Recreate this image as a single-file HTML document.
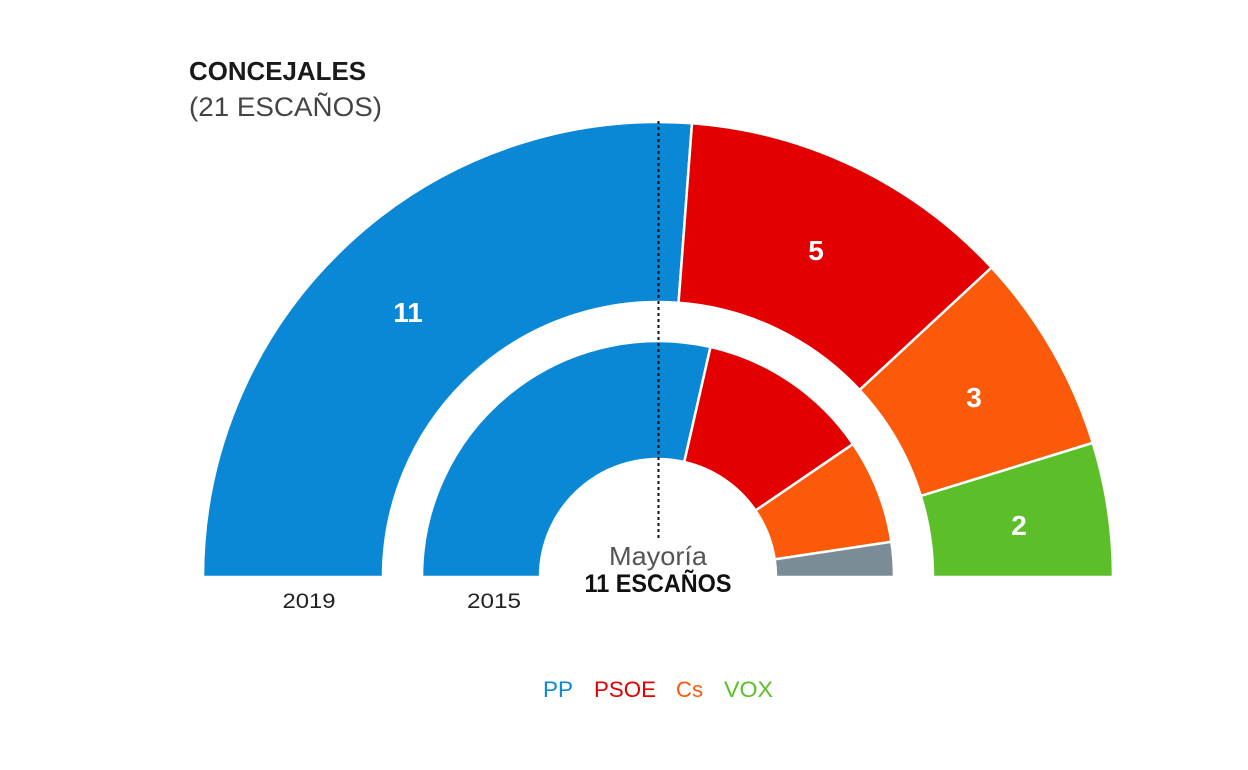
<!DOCTYPE html>
<html>
<head>
<meta charset="utf-8">
<style>
  html, body { margin:0; padding:0; background:#fff; }
  body { width:1248px; height:770px; overflow:hidden; }
  svg { display:block; }
  text { font-family: "Liberation Sans", "DejaVu Sans", sans-serif; }
</style>
</head>
<body>
<svg width="1248" height="770" viewBox="0 0 1248 770" xmlns="http://www.w3.org/2000/svg">
  <rect width="1248" height="770" fill="#ffffff"/>

  <!-- Title -->
  <text x="189" y="80" font-size="26" font-weight="bold" fill="#1a1a1a" textLength="177" lengthAdjust="spacingAndGlyphs">CONCEJALES</text>
  <text x="189" y="116" font-size="27" fill="#444" textLength="193" lengthAdjust="spacingAndGlyphs">(21 ESCAÑOS)</text>

  <!-- Outer ring 2019 -->
  <g stroke="#ffffff" stroke-width="2.5" stroke-linejoin="round">
    <path d="M203 577 A455 455 0 0 1 692.00 123.27 L678.55 302.77 A275 275 0 0 0 383 577 Z" fill="#0a88d6"/>
    <path d="M692.00 123.27 A455 455 0 0 1 991.54 267.52 L859.59 389.95 A275 275 0 0 0 678.55 302.77 Z" fill="#e20000"/>
    <path d="M991.54 267.52 A455 455 0 0 1 1092.78 442.88 L920.78 495.94 A275 275 0 0 0 859.59 389.95 Z" fill="#fb5a0b"/>
    <path d="M1092.78 442.88 A455 455 0 0 1 1113 577 L933 577 A275 275 0 0 0 920.78 495.94 Z" fill="#5cbf2a"/>
  </g>

  <!-- Inner ring 2015 -->
  <g stroke="#ffffff" stroke-width="2.5" stroke-linejoin="round">
    <path d="M422 577 A236 236 0 0 1 710.51 346.92 L684.26 461.96 A118 118 0 0 0 540 577 Z" fill="#0a88d6"/>
    <path d="M710.51 346.92 A236 236 0 0 1 852.99 444.06 L755.50 510.53 A118 118 0 0 0 684.26 461.96 Z" fill="#e20000"/>
    <path d="M852.99 444.06 A236 236 0 0 1 891.36 541.83 L774.68 559.41 A118 118 0 0 0 755.50 510.53 Z" fill="#fb5a0b"/>
    <path d="M891.36 541.83 A236 236 0 0 1 894 577 L776 577 A118 118 0 0 0 774.68 559.41 Z" fill="#7a8c95"/>
  </g>

  <!-- Majority dashed line -->
  <line x1="658.5" y1="121" x2="658.5" y2="540" stroke="#111" stroke-width="2" stroke-dasharray="3,3"/>

  <!-- Seat labels -->
  <g font-size="28" font-weight="bold" fill="#ffffff" text-anchor="middle">
    <text x="408" y="322">11</text>
    <text x="816" y="260">5</text>
    <text x="974" y="407">3</text>
    <text x="1019" y="535">2</text>
  </g>

  <!-- Majority label -->
  <text x="658" y="565" font-size="26" fill="#555" text-anchor="middle" textLength="98" lengthAdjust="spacingAndGlyphs">Mayoría</text>
  <text x="658" y="592" font-size="25" font-weight="bold" fill="#111" text-anchor="middle" textLength="147" lengthAdjust="spacingAndGlyphs">11 ESCAÑOS</text>

  <!-- Year labels -->
  <text x="309" y="608" font-size="21" fill="#222" text-anchor="middle" textLength="53" lengthAdjust="spacingAndGlyphs">2019</text>
  <text x="494" y="608" font-size="21" fill="#222" text-anchor="middle" textLength="54" lengthAdjust="spacingAndGlyphs">2015</text>

  <!-- Legend -->
  <g font-size="22">
    <text x="543" y="697" fill="#0a88d6" textLength="30" lengthAdjust="spacingAndGlyphs">PP</text>
    <text x="594" y="697" fill="#e20000" textLength="62" lengthAdjust="spacingAndGlyphs">PSOE</text>
    <text x="676" y="697" fill="#fb5a0b" textLength="27" lengthAdjust="spacingAndGlyphs">Cs</text>
    <text x="724" y="697" fill="#5cbf2a" textLength="49" lengthAdjust="spacingAndGlyphs">VOX</text>
  </g>
</svg>
</body>
</html>
